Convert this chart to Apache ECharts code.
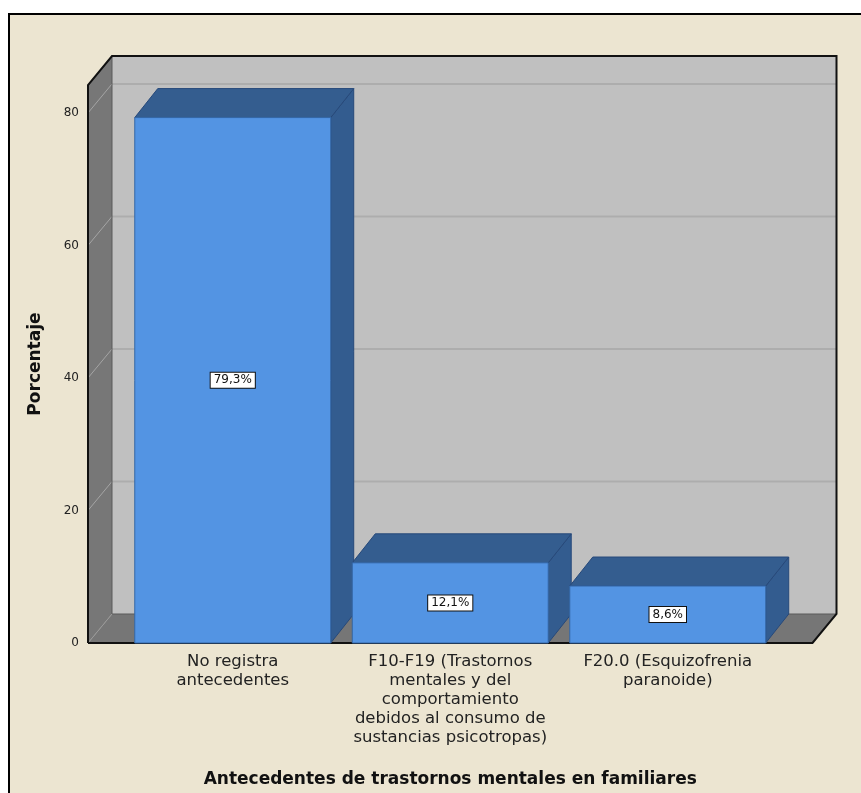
<!DOCTYPE html>
<html>
<head>
<meta charset="utf-8">
<script src="https://cdn.jsdelivr.net/npm/echarts@6/dist/echarts.min.js"></script>
<style>
  html, body { margin: 0; padding: 0; background: #ffffff; }
  #chart { width: 861px; height: 793px; }
</style>
</head>
<body>
<div id="chart"></div>
<script>
// Categories (x axis) and percentage values
const categories = [
  'No registra\nantecedentes',
  'F10-F19 (Trastornos\nmentales y del\ncomportamiento\ndebidos al consumo de\nsustancias psicotropas)',
  'F20.0 (Esquizofrenia\nparanoide)'
];
const percentages = [79.3, 12.1, 8.6];
const yTicks = [0, 20, 40, 60, 80];

// 3D look: depth offset of the box and the bars, extra floor beyond the bands
const DEPTH_X = 24;
const DEPTH_Y = -29;
const BAR_DX = 23;
const SIDE_PAD = 36;
const BAR_FRACTION = 0.901;
const FONT = '"DejaVu Sans", "Liberation Sans", Arial, sans-serif';

const chart = echarts.init(document.getElementById('chart'), null, { renderer: 'canvas' });

function fmtPct(v) {
  return v.toFixed(1).replace('.', ',') + '%';
}

// Walls, floor and gridlines of the 3D box
function renderFrame(params, api) {
  const cs = params.coordSys;
  const xL = cs.x - SIDE_PAD;
  const xR = cs.x + cs.width + SIDE_PAD;
  const yB = api.coord([0, 0])[1];
  const yT = cs.y;
  const dx = DEPTH_X, dy = DEPTH_Y;
  const children = [];
  children.push({
    type: 'polygon',
    shape: { points: [[xL + dx, yT + dy], [xR + dx, yT + dy], [xR + dx, yB + dy], [xL + dx, yB + dy]] },
    style: { fill: '#C0C0C0' }
  });
  children.push({
    type: 'polygon',
    shape: { points: [[xL, yB], [xL, yT], [xL + dx, yT + dy], [xL + dx, yB + dy]] },
    style: { fill: '#777777' }
  });
  children.push({
    type: 'polygon',
    shape: { points: [[xL, yB], [xR, yB], [xR + dx, yB + dy], [xL + dx, yB + dy]] },
    style: { fill: '#767676' }
  });
  yTicks.slice(1).forEach(function (v) {
    const y = api.coord([0, v])[1];
    children.push({
      type: 'line',
      shape: { x1: xL + dx, y1: y + dy, x2: xR + dx, y2: y + dy },
      style: { stroke: '#ADADAD', lineWidth: 2 }
    });
    children.push({
      type: 'line',
      shape: { x1: xL, y1: y, x2: xL + dx, y2: y + dy },
      style: { stroke: '#A5A5A5', lineWidth: 1 }
    });
  });
  // inner edges
  children.push({
    type: 'polyline',
    shape: { points: [[xL + dx, yT + dy], [xL + dx, yB + dy], [xR + dx, yB + dy]] },
    style: { stroke: '#5a5a5a', lineWidth: 1, fill: null }
  });
  children.push({
    type: 'line',
    shape: { x1: xL, y1: yB, x2: xL + dx, y2: yB + dy },
    style: { stroke: '#9a9a9a', lineWidth: 1 }
  });
  // outer outline
  children.push({
    type: 'polyline',
    shape: { points: [[xL, yB], [xL, yT], [xL + dx, yT + dy], [xR + dx, yT + dy], [xR + dx, yB + dy], [xR, yB], [xL, yB]] },
    style: { stroke: '#111111', lineWidth: 2, fill: null }
  });
  return { type: 'group', children: children };
}

// One 3D bar per category with a boxed value label
function renderBar(params, api) {
  const idx = api.value(0);
  const val = api.value(1);
  const top = api.coord([idx, val]);
  const base = api.coord([idx, 0]);
  const band = api.size([1, 0])[0];
  const w = band * BAR_FRACTION;
  const x0 = top[0] - w / 2, x1 = top[0] + w / 2;
  const yT = top[1], yB = base[1];
  const dx = BAR_DX, dy = DEPTH_Y;
  const mid = api.coord([idx, val / 2])[1];
  return {
    type: 'group',
    children: [
      {
        type: 'polygon',
        shape: { points: [[x1, yB], [x1, yT], [x1 + dx, yT + dy], [x1 + dx, yB + dy]] },
        style: { fill: '#335C8F', stroke: '#27497A', lineWidth: 1 }
      },
      {
        type: 'polygon',
        shape: { points: [[x0, yT], [x1, yT], [x1 + dx, yT + dy], [x0 + dx, yT + dy]] },
        style: { fill: '#345D8F', stroke: '#27497A', lineWidth: 1 }
      },
      {
        type: 'rect',
        shape: { x: x0, y: yT, width: w, height: yB - yT },
        style: { fill: '#5394E3', stroke: '#3467A6', lineWidth: 1 }
      },
      {
        type: 'text',
        x: top[0],
        y: mid,
        style: {
          text: fmtPct(val),
          align: 'center',
          verticalAlign: 'middle',
          font: '12px ' + FONT,
          fill: '#111111',
          backgroundColor: '#ffffff',
          borderColor: '#111111',
          borderWidth: 1,
          padding: [2, 3, 1, 3]
        }
      }
    ]
  };
}

const option = {
  backgroundColor: '#ffffff',
  animation: false,
  graphic: [
    {
      type: 'rect',
      left: 8,
      top: 13,
      z: -10,
      shape: { width: 900, height: 900 },
      style: { fill: '#ECE5D1', stroke: '#000000', lineWidth: 2 },
      silent: true
    }
  ],
  grid: { left: 124, top: 85.1, width: 652.5, bottom: 149 },
  xAxis: {
    type: 'category',
    data: categories,
    axisLine: { show: false },
    axisTick: { show: false },
    splitLine: { show: false },
    axisLabel: {
      interval: 0,
      margin: 9,
      fontSize: 16.5,
      lineHeight: 19,
      color: '#222222',
      fontFamily: FONT
    },
    name: 'Antecedentes de trastornos mentales en familiares',
    nameLocation: 'middle',
    nameGap: 128,
    nameTextStyle: {
      fontSize: 17,
      fontWeight: 'bold',
      color: '#111111',
      fontFamily: FONT
    }
  },
  yAxis: {
    type: 'value',
    min: 0,
    max: 84.2,
    interval: 20,
    offset: SIDE_PAD,
    axisLine: { show: false },
    axisTick: { show: false },
    splitLine: { show: false },
    axisLabel: {
      showMaxLabel: false,
      margin: 9,
      fontSize: 12,
      color: '#222222',
      fontFamily: FONT
    },
    name: 'Porcentaje',
    nameLocation: 'middle',
    nameGap: 44,
    nameTextStyle: {
      fontSize: 17,
      fontWeight: 'bold',
      color: '#111111',
      fontFamily: FONT
    }
  },
  series: [
    {
      type: 'custom',
      name: 'frame',
      z: 1,
      silent: true,
      renderItem: renderFrame,
      data: [[0, 0]]
    },
    {
      type: 'custom',
      name: 'Porcentaje',
      z: 3,
      renderItem: renderBar,
      encode: { x: 0, y: 1 },
      data: percentages.map(function (v, i) { return [i, v]; })
    }
  ]
};

chart.setOption(option);
</script>
</body>
</html>
